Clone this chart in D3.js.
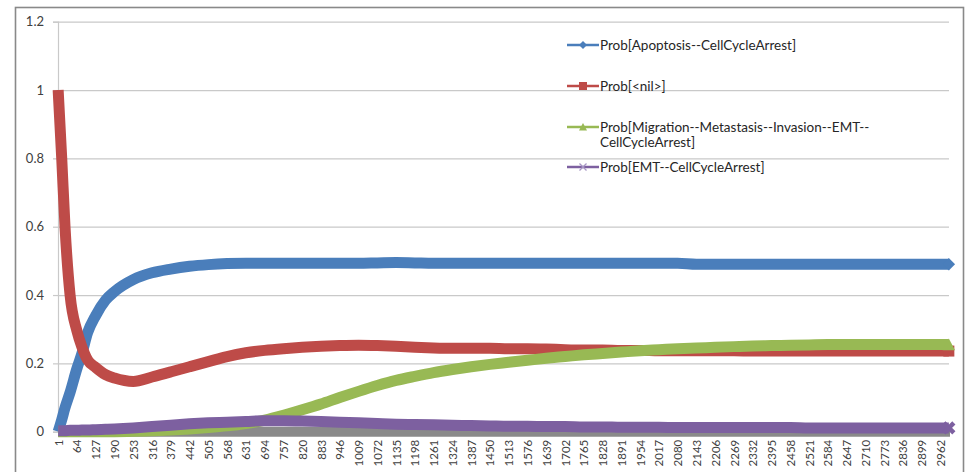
<!DOCTYPE html>
<html>
<head>
<meta charset="utf-8">
<script src="https://cdn.jsdelivr.net/npm/d3@7/dist/d3.min.js"></script>
<style>
  html, body { margin: 0; padding: 0; background: #fff; }
  svg { display: block; font-family: Lato, "Open Sans", sans-serif; }
</style>
</head>
<body>
<svg id="chart" width="965" height="472"></svg>
<script>
// Simulation step (category) count and sampled steps
const stepCount = 2990;
const sampleSteps = [1, 13, 24, 41, 64, 80, 100, 127, 160, 190, 253, 316, 379, 442, 505, 568, 631, 694, 757, 820,
  883, 946, 1009, 1072, 1135, 1198, 1261, 1324, 1387, 1450, 1513, 1576, 1639, 1702, 1765, 1828, 1891, 1954, 2017,
  2080, 2143, 2206, 2269, 2332, 2395, 2458, 2521, 2584, 2647, 2710, 2773, 2836, 2899, 2962, 2990];

// Category labels shown on the horizontal axis
const xTickLabels = [1, 64, 127, 190, 253, 316, 379, 442, 505, 568, 631, 694, 757, 820, 883, 946, 1009, 1072, 1135,
  1198, 1261, 1324, 1387, 1450, 1513, 1576, 1639, 1702, 1765, 1828, 1891, 1954, 2017, 2080, 2143, 2206, 2269, 2332,
  2395, 2458, 2521, 2584, 2647, 2710, 2773, 2836, 2899, 2962];
const yTickLabels = [0, 0.2, 0.4, 0.6, 0.8, 1, 1.2];

const seriesNames = [
  ["Prob[Apoptosis--CellCycleArrest]"],
  ["Prob[<nil>]"],
  ["Prob[Migration--Metastasis--Invasion--EMT--", "CellCycleArrest]"],
  ["Prob[EMT--CellCycleArrest]"]
];

const apoptosis = [0, 0.035, 0.07, 0.115, 0.185, 0.227, 0.29, 0.34, 0.385, 0.41, 0.445, 0.465, 0.476, 0.484, 0.489,
  0.492, 0.493, 0.493, 0.493, 0.493, 0.493, 0.493, 0.493, 0.494, 0.495, 0.494, 0.493, 0.493, 0.493, 0.493, 0.493,
  0.493, 0.493, 0.493, 0.493, 0.493, 0.493, 0.493, 0.493, 0.493, 0.49, 0.49, 0.49, 0.49, 0.49, 0.49, 0.49, 0.49,
  0.49, 0.49, 0.49, 0.49, 0.49, 0.49, 0.49];
const nil = [1, 0.8, 0.6, 0.4, 0.295, 0.25, 0.21, 0.188, 0.167, 0.157, 0.147, 0.16, 0.175, 0.19, 0.205, 0.22,
  0.231, 0.238, 0.243, 0.247, 0.25, 0.252, 0.253, 0.252, 0.25, 0.247, 0.245, 0.244, 0.244, 0.244, 0.243, 0.243,
  0.242, 0.24, 0.239, 0.239, 0.238, 0.238, 0.237, 0.237, 0.237, 0.237, 0.237, 0.236, 0.236, 0.236, 0.236, 0.236,
  0.236, 0.236, 0.236, 0.236, 0.236, 0.236, 0.236];
const migration = [0, 0, 0, 0, 0, 0, 0, 0, 0, 0, 0.001, 0.003, 0.005, 0.008, 0.012, 0.017, 0.024, 0.034, 0.048,
  0.064, 0.081, 0.1, 0.118, 0.135, 0.15, 0.162, 0.173, 0.182, 0.19, 0.197, 0.203, 0.209, 0.215, 0.22, 0.225,
  0.229, 0.233, 0.237, 0.24, 0.243, 0.245, 0.247, 0.249, 0.251, 0.252, 0.253, 0.254, 0.255, 0.255, 0.255, 0.255,
  0.255, 0.255, 0.255, 0.255];
const emt = [0.003, 0.003, 0.003, 0.004, 0.004, 0.005, 0.005, 0.006, 0.007, 0.008, 0.011, 0.015, 0.019, 0.023,
  0.026, 0.028, 0.03, 0.032, 0.032, 0.031, 0.03, 0.028, 0.026, 0.024, 0.022, 0.021, 0.02, 0.019, 0.018, 0.017,
  0.016, 0.016, 0.015, 0.015, 0.014, 0.014, 0.013, 0.013, 0.013, 0.012, 0.012, 0.012, 0.012, 0.012, 0.012, 0.012,
  0.011, 0.011, 0.011, 0.011, 0.011, 0.011, 0.011, 0.011, 0.011];

const seriesColors = ["#4a7ebb", "#be4b48", "#98b954", "#7d60a0"];
const markerKinds = ["diamond", "square", "triangle", "x"];

const svg = d3.select("#chart");
const plot = { left: 58, right: 949, top: 21.7, bottom: 431.7 };

// Outer chart frame
svg.append("rect").attr("x", 15.5).attr("y", 7.5).attr("width", 948).attr("height", 480)
  .attr("fill", "#fff").attr("stroke", "#898989").attr("stroke-width", 1.6);

const x = d3.scaleLinear().domain([0.5, stepCount + 0.5]).range([plot.left, plot.right]);
const y = d3.scaleLinear().domain([0, 1.2]).range([plot.bottom, plot.top]);

// Horizontal gridlines
svg.append("g").attr("transform", `translate(${plot.left},0)`)
  .call(d3.axisLeft(y).tickValues(yTickLabels.filter(v => v > 0)).tickSize(-(plot.right - plot.left)).tickFormat(""))
  .call(g => g.select(".domain").remove())
  .call(g => g.selectAll("line").attr("stroke", "#c9c9c9").attr("stroke-width", 1.2));

// Vertical axis with tick marks and labels
svg.append("g").attr("transform", `translate(${plot.left},0)`)
  .call(d3.axisLeft(y).tickValues(yTickLabels).tickSize(5).tickPadding(9).tickFormat(d3.format("~g")))
  .call(g => g.select(".domain").attr("stroke", "#c9c9c9").attr("stroke-width", 1.2))
  .call(g => g.selectAll("line").attr("stroke", "#c9c9c9").attr("stroke-width", 1.2))
  .call(g => g.selectAll("text").attr("fill", "#404040").style("font-size", "13px")
    .style("font-family", "Lato, sans-serif"));

// Horizontal axis baseline (drawn under the series)
svg.append("line").attr("x1", plot.left).attr("x2", plot.right + 1)
  .attr("y1", y(0)).attr("y2", y(0))
  .attr("stroke", "#8a8a8a").attr("stroke-width", 10);

// Category labels, rotated
svg.append("g").attr("transform", `translate(0,${plot.bottom})`)
  .call(d3.axisBottom(x).tickValues(xTickLabels).tickSize(0).tickFormat(d => String(d)))
  .call(g => g.select(".domain").remove())
  .call(g => g.selectAll("text")
    .attr("transform", "rotate(-90)")
    .attr("x", -8).attr("y", 0).attr("dy", "0.35em")
    .attr("text-anchor", "end")
    .attr("fill", "#404040")
    .style("font-size", "11.5px")
    .style("font-family", "Lato, sans-serif"));

const seriesData = [apoptosis, nil, migration, emt];
const line = d3.line()
  .x(d => x(d.t))
  .y(d => y(d.v))
  .curve(d3.curveMonotoneX);

function markerPath(kind, cx, cy, r) {
  const p = d3.path();
  if (kind === "diamond") {
    p.moveTo(cx + r, cy); p.lineTo(cx, cy - r); p.lineTo(cx - r, cy); p.lineTo(cx, cy + r); p.closePath();
  } else if (kind === "square") {
    p.rect(cx - r, cy - r, 2 * r, 2 * r);
  } else if (kind === "triangle") {
    p.moveTo(cx, cy - r); p.lineTo(cx + r, cy + r * 0.9); p.lineTo(cx - r, cy + r * 0.9); p.closePath();
  } else {
    p.moveTo(cx - r, cy - r); p.lineTo(cx + r, cy + r);
    p.moveTo(cx - r, cy + r); p.lineTo(cx + r, cy - r);
  }
  return p.toString();
}

const seriesG = svg.append("g");
seriesData.forEach((vals, i) => {
  const pts = sampleSteps.map((t, k) => ({ t, v: vals[k] }));
  const g = seriesG.append("g");
  g.append("path").attr("d", line(pts))
    .attr("fill", "none").attr("stroke", seriesColors[i])
    .attr("stroke-width", 11).attr("stroke-linejoin", "round").attr("stroke-linecap", "butt");
  const last = pts[pts.length - 1];
  const kind = markerKinds[i];
  const mk = g.append("path")
    .attr("d", markerPath(kind, x(last.t), y(last.v), kind === "x" ? 5 : (kind === "square" ? 5.5 : 6.2)));
  if (kind === "x") mk.attr("fill", "none").attr("stroke", seriesColors[i]).attr("stroke-width", 4.5);
  else mk.attr("fill", seriesColors[i]);
});

// Legend
const legendRows = [45, 86, 127, 167];
const legend = svg.append("g");
seriesNames.forEach((lines, i) => {
  const cy = legendRows[i];
  legend.append("line").attr("x1", 567).attr("x2", 599).attr("y1", cy).attr("y2", cy)
    .attr("stroke", seriesColors[i]).attr("stroke-width", 2.5);
  const kind = markerKinds[i];
  const mk = legend.append("path").attr("d", markerPath(kind, 583, cy, kind === "x" ? 3.5 : 4));
  if (kind === "x") mk.attr("fill", "none").attr("stroke", "#a796c4").attr("stroke-width", 1.3);
  else mk.attr("fill", seriesColors[i]);
  const txt = legend.append("text").attr("x", 600).attr("y", cy).attr("dy", "0.35em")
    .attr("fill", "#262626").style("font-size", "13.5px").style("font-family", "Lato, sans-serif");
  lines.forEach((s, k) => {
    txt.append("tspan").attr("x", 600).attr("dy", k === 0 ? "0.35em" : "15.5px").text(s);
  });
});
</script>
</body>
</html>
